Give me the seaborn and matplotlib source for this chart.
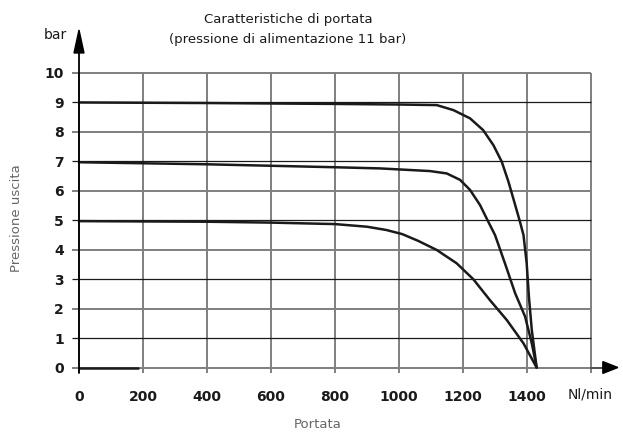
import numpy as np
import pandas as pd
import seaborn as sns
import matplotlib.pyplot as plt
from matplotlib.patches import Polygon

# Data (flow Nl/min vs outlet pressure bar)
flow_9 = [0, 400, 800, 1000, 1118, 1170, 1222, 1263, 1295, 1321, 1342, 1363, 1378, 1389, 1399, 1406, 1415, 1430]
pres_9 = [9.0, 8.98, 8.95, 8.93, 8.91, 8.74, 8.46, 8.06, 7.55, 6.99, 6.31, 5.52, 4.95, 4.5, 3.54, 2.4, 1.27, 0.0]

flow_7 = [0, 400, 800, 941, 1097, 1149, 1191, 1222, 1253, 1279, 1300, 1331, 1363, 1394, 1415, 1430]
pres_7 = [6.97, 6.9, 6.8, 6.76, 6.67, 6.59, 6.37, 6.03, 5.52, 4.95, 4.5, 3.54, 2.52, 1.73, 0.82, 0.0]

flow_5 = [0, 400, 600, 800, 900, 960, 1010, 1060, 1118, 1180, 1232, 1284, 1337, 1389, 1430]
pres_5 = [4.97, 4.95, 4.92, 4.87, 4.78, 4.67, 4.53, 4.30, 3.99, 3.54, 3.0, 2.29, 1.61, 0.82, 0.0]

flow_0 = [0, 185]
pres_0 = [0.0, 0.0]

x_ticks = [0, 200, 400, 600, 800, 1000, 1200, 1400]
y_ticks = list(range(0, 11))

df = pd.concat([
    pd.DataFrame({'Portata': flow_9, 'Pressione': pres_9, 'curva': '9 bar'}),
    pd.DataFrame({'Portata': flow_7, 'Pressione': pres_7, 'curva': '7 bar'}),
    pd.DataFrame({'Portata': flow_5, 'Pressione': pres_5, 'curva': '5 bar'}),
    pd.DataFrame({'Portata': flow_0, 'Pressione': pres_0, 'curva': '0'}),
])

sns.set_style('white')
plt.rcParams['font.family'] = ['DejaVu Sans']

fig = plt.figure(figsize=(6.23, 4.34), dpi=100)
# axes: x 0..1600 -> px 79..591, y 0..10 -> px 367.5..73
ax = fig.add_axes([79 / 623, (434 - 367.5) / 434, 512 / 623, 294.5 / 434])
ax.set_xlim(0, 1600)
ax.set_ylim(0, 10)

# grid with little ticks sticking out
for v in x_ticks + [1600]:
    ax.vlines(v, -0.18, 10, color='#7f7f7f', lw=1.4, clip_on=False, zorder=1)
for h in y_ticks:
    if h % 2 == 0:
        ax.hlines(h, -22, 1600, color='#7f7f7f', lw=1.4, clip_on=False, zorder=1)
    else:
        ax.hlines(h, -22, 1600, color='#1a1a1a', lw=0.9, clip_on=False, zorder=1)

sns.lineplot(data=df, x='Portata', y='Pressione', units='curva', estimator=None,
             color='#1a1a1a', lw=1.8, sort=False, ax=ax, zorder=3, clip_on=False)

# axis lines with arrows
ax.plot([0, 0], [-0.18, 10.7], color='black', lw=1.3, clip_on=False, zorder=4)
ax.plot([1600, 1640], [0, 0], color='#4d4d4d', lw=1.4, clip_on=False, zorder=4)
ax.add_patch(Polygon([[-15.6, 10.68], [15.6, 10.68], [0, 11.46]], closed=True,
                     color='black', clip_on=False, zorder=5))
ax.add_patch(Polygon([[1637, -0.2], [1637, 0.2], [1684, 0]], closed=True,
                     color='black', clip_on=False, zorder=5))

for s in ax.spines.values():
    s.set_visible(False)
ax.set_xticks(x_ticks)
ax.set_yticks(y_ticks)
ax.set_xticklabels([str(t) for t in x_ticks], fontweight='bold', fontsize=10, color='#1a1a1a')
ax.set_yticklabels([str(t) for t in y_ticks], fontweight='bold', fontsize=10, color='#1a1a1a')
ax.tick_params(axis='x', length=0, pad=16)
ax.tick_params(axis='y', length=0, pad=11)
ax.set_xlabel('')
ax.set_ylabel('')

fig.text(568 / 623, 1 - 395 / 434, 'Nl/min', fontsize=10, ha='left', va='center', color='#1a1a1a')
fig.text(55 / 623, 1 - 35 / 434, 'bar', fontsize=10, ha='center', va='center', color='#1a1a1a')
fig.text(288 / 623, 1 - 19 / 434, 'Caratteristiche di portata', fontsize=9.5,
         ha='center', va='center', color='#1a1a1a')
fig.text(288 / 623, 1 - 39 / 434, '(pressione di alimentazione 11 bar)', fontsize=9.5,
         ha='center', va='center', color='#1a1a1a')
fig.text(17 / 623, 1 - 218 / 434, 'Pressione uscita', fontsize=9.5, rotation=90,
         ha='center', va='center', color='#666666')
fig.text(318 / 623, 1 - 425 / 434, 'Portata', fontsize=9.5, ha='center', va='center', color='#666666')

fig.savefig('out.png', dpi=100)
